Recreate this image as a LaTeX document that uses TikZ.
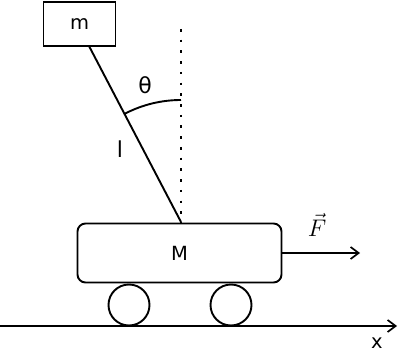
\documentclass[tikz,border=0pt]{standalone}
\usepackage{fix-cm}
\usepackage{fontspec}
\setmainfont{DejaVu Sans}
\usetikzlibrary{arrows.meta}
\begin{document}
\begin{tikzpicture}[x=1pt,y=-1pt,
  thickline/.style={line width=1.9pt},
  lbl/.style={inner sep=0pt, font=\fontsize{19.5}{19.5}\selectfont},
  biglbl/.style={inner sep=0pt, font=\fontsize{22}{22}\selectfont},
  arr/.style={thickline,-{Straight Barb[length=8pt,width=12pt,line width=1.7pt]}}]
\useasboundingbox (0,0) rectangle (398,358);
% mass m
\node[draw, thickline, minimum width=72pt, minimum height=44pt, inner sep=0pt, lbl] (m) at (79.5,24) {m};
% cart
\node[draw, thickline, rounded corners=8pt, minimum width=204pt, minimum height=59pt, inner sep=0pt, lbl] (cart) at (179.5,253) {M};
% wheels
\node[draw, thickline, circle, minimum size=41pt, inner sep=0pt] (w1) at (129,305) {};
\node[draw, thickline, circle, minimum size=41pt, inner sep=0pt] (w2) at (231,305) {};
% pivot and rod
\coordinate (pivot) at (181,222);
\coordinate (rodtop) at (89,46);
\draw[thickline] (rodtop) -- (pivot);
% dotted vertical
\coordinate (vtop) at (181,29);
\draw[line width=2.6pt, dash pattern=on 2.6pt off 8.12pt] (vtop) -- (pivot);
% angle arc
\draw[thickline] (pivot) ++(-117.6:122) arc[start angle=-117.6, end angle=-90, radius=122];
% labels
\node[biglbl] (theta) at (145,85) {θ};
\node[biglbl] (len) at (120,149) {l};
% force
\coordinate (fend) at (360,253);
\draw[arr] (cart.east |- fend) -- (fend);
\node[inner sep=0pt, font=\fontsize{24}{24}\selectfont] (F) at (317,225) {$\vec{F}$};
% ground
\coordinate (gstart) at (0,326);
\coordinate (gend) at (397,326);
\draw[arr] (gstart) -- (gend);
\node[lbl] (xlbl) at (377,343) {x};
\end{tikzpicture}
\end{document}
